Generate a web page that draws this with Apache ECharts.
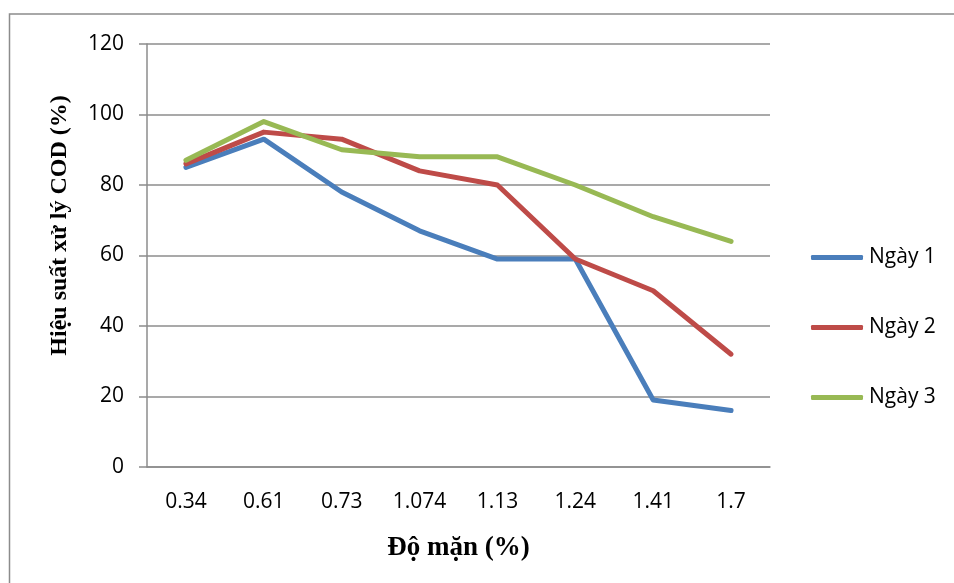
<!DOCTYPE html>
<html>
<head>
<meta charset="utf-8">
<script src="https://cdn.jsdelivr.net/npm/echarts@6/dist/echarts.min.js"></script>
<style>
  html, body { margin: 0; padding: 0; background: #fff; }
  #chart { width: 954px; height: 583px; }
</style>
</head>
<body>
<div id="chart"></div>
<script>
// Salinity levels (x categories)
const salinity = ['0.34', '0.61', '0.73', '1.074', '1.13', '1.24', '1.41', '1.7'];
// COD removal efficiency (%) per day
const day1 = [85, 93, 78, 67, 59, 59, 19, 16];
const day2 = [86, 95, 93, 84, 80, 59, 50, 32];
const day3 = [87, 98, 90, 88, 88, 80, 71, 64];
const seriesNames = ['Ngày 1', 'Ngày 2', 'Ngày 3'];
const seriesColors = ['#4A7EBB', '#BE4B48', '#98B954'];

const chart = echarts.init(document.getElementById('chart'));
const labelFont = '"Open Sans", Lato, sans-serif';
const titleFont = '"Liberation Serif", "Times New Roman", serif';

const mkLine = (name, data, color) => ({
  name: name,
  type: 'line',
  data: data,
  symbol: 'none',
  lineStyle: { width: 5, color: color, cap: 'round', join: 'round' },
  itemStyle: { color: color },
  emphasis: { disabled: true }
});

chart.setOption({
  animation: false,
  backgroundColor: '#ffffff',
  graphic: [{
    type: 'rect',
    shape: { x: 9.5, y: 14, width: 960, height: 600 },
    style: { fill: 'none', stroke: '#8c8c8c', lineWidth: 1.5 },
    z: -1
  }],
  grid: { left: 147, right: 184, top: 44, bottom: 116, containLabel: false },
  legend: {
    orient: 'vertical',
    left: 811,
    top: 247,
    padding: 0,
    itemWidth: 52,
    itemHeight: 5,
    itemGap: 49,
    icon: 'roundRect',
    textStyle: { fontFamily: labelFont, fontSize: 21, color: '#000', padding: [0, 0, 0, 1] },
    data: seriesNames
  },
  xAxis: {
    type: 'category',
    data: salinity,
    boundaryGap: true,
    name: 'Độ mặn (%)',
    nameLocation: 'middle',
    nameGap: 68,
    nameTextStyle: { fontFamily: titleFont, fontWeight: 'bold', fontSize: 27, color: '#000' },
    axisLine: { show: true, lineStyle: { color: '#8c8c8c', width: 1.5 } },
    axisTick: { show: false },
    axisLabel: { fontFamily: labelFont, fontSize: 21, color: '#000', margin: 25 },
    splitLine: { show: false }
  },
  yAxis: {
    type: 'value',
    min: 0,
    max: 120,
    interval: 20,
    name: 'Hiệu suất xử lý COD (%)',
    nameLocation: 'middle',
    nameGap: 75,
    nameTextStyle: {
      fontFamily: titleFont, fontWeight: 'bold', fontSize: 24, color: '#000',
      padding: [0, 0, 0, 60]
    },
    axisLine: { show: true, lineStyle: { color: '#8c8c8c', width: 1.5 } },
    axisTick: { show: true, inside: false, length: 8, lineStyle: { color: '#8c8c8c', width: 1.5 } },
    axisLabel: { fontFamily: labelFont, fontSize: 21, color: '#000', margin: 23 },
    splitLine: { show: true, lineStyle: { color: '#8c8c8c', width: 1.5 } }
  },
  series: [
    mkLine(seriesNames[0], day1, seriesColors[0]),
    mkLine(seriesNames[1], day2, seriesColors[1]),
    mkLine(seriesNames[2], day3, seriesColors[2])
  ]
});
</script>
</body>
</html>
